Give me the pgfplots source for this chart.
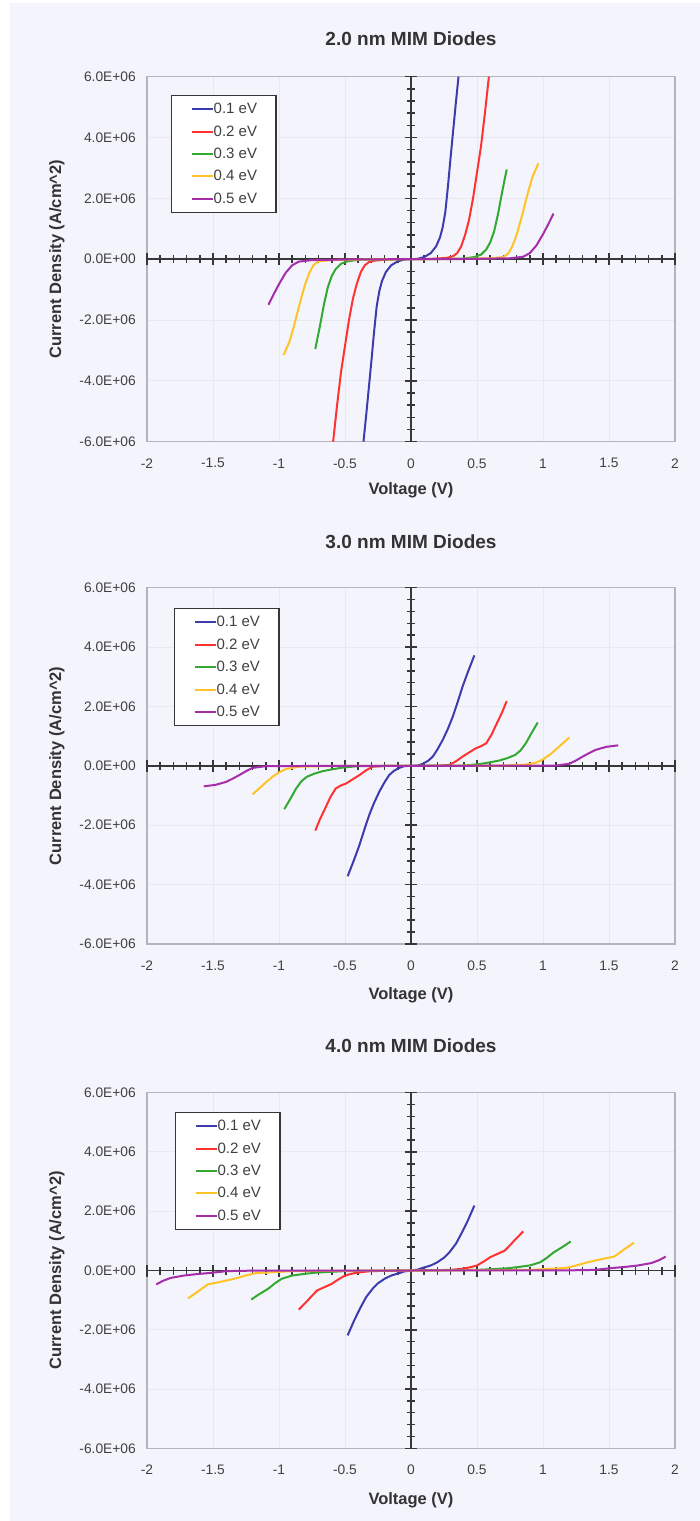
\documentclass[border=0pt]{standalone}
\usepackage{fontspec}
\setmainfont{Liberation Sans}
\usepackage{pgfplots}
\pgfplotsset{compat=1.18}

\definecolor{bg}{RGB}{244,244,252}
\definecolor{gridc}{RGB}{232,232,238}
\definecolor{framec}{RGB}{180,180,186}
\definecolor{txt}{RGB}{64,64,64}
\definecolor{axc}{RGB}{55,55,55}
\definecolor{c1}{RGB}{60,60,175}
\definecolor{c2}{RGB}{255,50,50}
\definecolor{c3}{RGB}{50,170,50}
\definecolor{c4}{RGB}{255,195,40}
\definecolor{c5}{RGB}{165,45,170}

% y values are in units of 1E+06 A/cm^2
\pgfplotsset{
  base/.style={width=528pt, scale only axis, anchor=south west,
    xmin=-2, xmax=2, ymin=-6, ymax=6, enlargelimits=false},
  frame/.style={base,
    axis line style={framec, line width=1.3pt},
    xtick={-2,-1.5,-1,-0.5,0,0.5,1,1.5,2},
    xticklabels={-2,-1.5,-1,-0.5,0,0.5,1,1.5,2},
    ytick={-6,-4,-2,0,2,4,6},
    yticklabels={-6.0E+06,-4.0E+06,-2.0E+06,0.0E+00,2.0E+06,4.0E+06,6.0E+06},
    major tick length=0pt,
    grid=major, major grid style={gridc, line width=1pt},
    tick label style={font=\fontsize{13.8}{15}\selectfont, text=txt},
    xticklabel style={anchor=center, inner sep=0pt, yshift=-21.6pt},
    yticklabel style={anchor=east, inner sep=0pt, xshift=-11pt},
    title style={font=\fontsize{19}{22}\bfseries, text=black!80, anchor=center, at={(0.5,1)}},
    label style={font=\fontsize{16.5}{19}\bfseries, text=black!80},
    xlabel={Voltage (V)},
    ylabel={Current Density (A/cm\textasciicircum 2)},
    xlabel style={anchor=center, at={(0.5,0)}, yshift=-48.5pt},
  },
  mid/.style={base,
    axis lines=middle,
    axis line style={-, draw=axc, line width=1.5pt},
    every inner x axis line/.append style={-},
    every inner y axis line/.append style={-},
    xtick={-2,-1.5,-1,-0.5,0,0.5,1,1.5,2}, minor x tick num=4,
    ytick={-6,-4,-2,0,2,4,6}, minor y tick num=4,
    xticklabels={}, yticklabels={},
    tick align=center, major tick length=12pt, minor tick length=8pt,
    tick style={draw=axc, line width=1.5pt},
    every axis plot/.append style={line width=2pt},
    legend cell align=left,
    legend image code/.code={\draw[#1, line width=2pt] (0pt,0pt) -- (21pt,0pt);},
    legend style={anchor=north west, draw=axc, line width=1.3pt, fill=white,
      font=\fontsize{15}{17}\selectfont, text=txt,
      inner xsep=19pt, inner ysep=7.5pt, row sep=10.5pt,
      nodes={inner sep=0pt},
      /tikz/every even column/.append style={column sep=3pt}},
  },
}

\begin{document}
\begin{tikzpicture}
\fill[white] (0,0) rectangle (700pt,1521pt);
\fill[bg] (10pt,0) rectangle (700pt,1518pt);
\path[use as bounding box] (0,0) rectangle (700pt,1521pt);

% ---------------- 2.0 nm ----------------
\begin{axis}[frame, at={(147pt,1079.3pt)}, height=365pt,
  title={2.0 nm MIM Diodes}, title style={yshift=31.7pt},
  ylabel style={anchor=center, at={(axis description cs:-0.1705,0.5)}}]
\end{axis}
\begin{axis}[mid, at={(147pt,1079.3pt)}, height=365pt,
  legend style={at={(axis description cs:0.0455,0.95)}}]
\addplot[c1] coordinates {(-0.36,-6.0) (-0.34,-5.15) (-0.32,-4.25) (-0.3,-3.35) (-0.28,-2.4) (-0.26,-1.55) (-0.24,-1.05) (-0.22,-0.72) (-0.19,-0.42) (-0.15,-0.2) (-0.1,-0.07) (-0.05,-0.01) (0,0)
  (0.05,0.01) (0.1,0.07) (0.15,0.2) (0.19,0.42) (0.22,0.72) (0.24,1.05) (0.26,1.55) (0.28,2.4) (0.3,3.35) (0.32,4.25) (0.34,5.15) (0.36,6.0)};
\addplot[c2] coordinates {(-0.59,-6.0) (-0.56,-4.8) (-0.53,-3.7) (-0.5,-2.85) (-0.47,-2.0) (-0.44,-1.3) (-0.41,-0.8) (-0.38,-0.42) (-0.35,-0.2) (-0.32,-0.1) (-0.28,-0.05) (-0.2,-0.02) (-0.1,-0.005) (0,0)
  (0.1,0.005) (0.2,0.02) (0.28,0.05) (0.32,0.1) (0.35,0.2) (0.38,0.42) (0.41,0.8) (0.44,1.3) (0.47,2.0) (0.5,2.85) (0.53,3.7) (0.56,4.8) (0.59,6.0)};
\addplot[c3] coordinates {(-0.725,-2.95) (-0.69,-2.2) (-0.66,-1.5) (-0.63,-0.92) (-0.6,-0.55) (-0.57,-0.32) (-0.53,-0.15) (-0.48,-0.07) (-0.4,-0.02) (-0.2,-0.005) (0,0)
  (0.2,0.005) (0.4,0.02) (0.48,0.07) (0.53,0.15) (0.57,0.32) (0.6,0.55) (0.63,0.92) (0.66,1.5) (0.69,2.2) (0.725,2.95)};
\addplot[c4] coordinates {(-0.965,-3.15) (-0.92,-2.7) (-0.89,-2.25) (-0.86,-1.75) (-0.83,-1.25) (-0.8,-0.8) (-0.77,-0.45) (-0.74,-0.2) (-0.7,-0.07) (-0.6,-0.03) (-0.3,-0.005) (0,0)
  (0.3,0.005) (0.6,0.03) (0.7,0.07) (0.74,0.2) (0.77,0.45) (0.8,0.8) (0.83,1.25) (0.86,1.75) (0.89,2.25) (0.92,2.7) (0.965,3.15)};
\addplot[c5] coordinates {(-1.08,-1.5) (-1.04,-1.15) (-1.0,-0.82) (-0.95,-0.45) (-0.9,-0.2) (-0.85,-0.08) (-0.75,-0.03) (-0.4,-0.005) (0,0)
  (0.4,0.005) (0.75,0.03) (0.85,0.08) (0.9,0.2) (0.95,0.45) (1.0,0.82) (1.04,1.15) (1.08,1.5)};
\legend{0.1 eV,0.2 eV,0.3 eV,0.4 eV,0.5 eV}
\end{axis}

% ---------------- 3.0 nm ----------------
\begin{axis}[frame, at={(147pt,577pt)}, height=356.3pt,
  title={3.0 nm MIM Diodes}, title style={yshift=39.7pt},
  xlabel style={yshift=-2.5pt},
  ylabel style={anchor=center, at={(axis description cs:-0.1705,0.5)}}]
\end{axis}
\begin{axis}[mid, at={(147pt,577pt)}, height=356.3pt,
  legend style={at={(axis description cs:0.051,0.943)}}]
\addplot[c1] coordinates {(-0.48,-3.72) (-0.43,-3.15) (-0.39,-2.66) (-0.35,-2.1) (-0.316,-1.65) (-0.28,-1.25) (-0.24,-0.87) (-0.2,-0.55) (-0.165,-0.31) (-0.13,-0.17) (-0.09,-0.07) (-0.05,-0.01) (0,0)
  (0.05,0.01) (0.09,0.07) (0.13,0.17) (0.165,0.31) (0.2,0.55) (0.24,0.87) (0.28,1.25) (0.316,1.65) (0.35,2.1) (0.39,2.66) (0.43,3.15) (0.48,3.72)};
\addplot[c2] coordinates {(-0.725,-2.18) (-0.69,-1.8) (-0.65,-1.43) (-0.61,-1.05) (-0.57,-0.76) (-0.53,-0.66) (-0.49,-0.59) (-0.44,-0.45) (-0.39,-0.31) (-0.34,-0.15) (-0.29,-0.03) (-0.2,-0.005) (0,0)
  (0.2,0.005) (0.29,0.03) (0.34,0.15) (0.39,0.31) (0.44,0.45) (0.49,0.59) (0.53,0.66) (0.57,0.76) (0.61,1.05) (0.65,1.43) (0.69,1.8) (0.725,2.18)};
\addplot[c3] coordinates {(-0.96,-1.46) (-0.91,-1.08) (-0.87,-0.76) (-0.83,-0.52) (-0.79,-0.37) (-0.73,-0.26) (-0.67,-0.18) (-0.6,-0.12) (-0.52,-0.06) (-0.4,-0.01) (0,0)
  (0.4,0.01) (0.52,0.06) (0.6,0.12) (0.67,0.18) (0.73,0.26) (0.79,0.37) (0.83,0.52) (0.87,0.76) (0.91,1.08) (0.96,1.46)};
\addplot[c4] coordinates {(-1.2,-0.96) (-1.16,-0.8) (-1.12,-0.64) (-1.09,-0.52) (-1.05,-0.37) (-1.0,-0.22) (-0.95,-0.11) (-0.85,-0.03) (-0.6,-0.005) (0,0)
  (0.6,0.005) (0.85,0.03) (0.95,0.11) (1.0,0.22) (1.05,0.37) (1.09,0.52) (1.12,0.64) (1.16,0.8) (1.2,0.96)};
\addplot[c5] coordinates {(-1.57,-0.69) (-1.48,-0.64) (-1.4,-0.54) (-1.35,-0.43) (-1.3,-0.31) (-1.25,-0.18) (-1.2,-0.07) (-1.1,-0.01) (-0.8,-0.005) (0,0)
  (0.8,0.005) (1.1,0.01) (1.2,0.07) (1.25,0.18) (1.3,0.31) (1.35,0.43) (1.4,0.54) (1.48,0.64) (1.57,0.69)};
\legend{0.1 eV,0.2 eV,0.3 eV,0.4 eV,0.5 eV}
\end{axis}

% ---------------- 4.0 nm ----------------
\begin{axis}[frame, at={(147pt,72.7pt)}, height=355.6pt,
  title={4.0 nm MIM Diodes}, title style={yshift=40.7pt},
  xlabel style={yshift=-3pt},
  ylabel style={anchor=center, at={(axis description cs:-0.1705,0.5)}}]
\end{axis}
\begin{axis}[mid, at={(147pt,72.7pt)}, height=355.6pt,
  legend style={at={(axis description cs:0.053,0.946)}}]
\addplot[c1] coordinates {(-0.48,-2.19) (-0.43,-1.68) (-0.38,-1.23) (-0.34,-0.9) (-0.29,-0.61) (-0.25,-0.43) (-0.2,-0.28) (-0.15,-0.17) (-0.09,-0.09) (-0.05,-0.03) (0,0)
  (0.05,0.03) (0.09,0.09) (0.15,0.17) (0.2,0.28) (0.25,0.43) (0.29,0.61) (0.34,0.9) (0.38,1.23) (0.43,1.68) (0.48,2.19)};
\addplot[c2] coordinates {(-0.85,-1.32) (-0.78,-1.0) (-0.75,-0.85) (-0.71,-0.67) (-0.66,-0.57) (-0.6,-0.45) (-0.55,-0.3) (-0.5,-0.17) (-0.45,-0.11) (-0.39,-0.06) (-0.3,-0.02) (0,0)
  (0.3,0.02) (0.39,0.06) (0.45,0.11) (0.5,0.17) (0.55,0.3) (0.6,0.45) (0.66,0.57) (0.71,0.67) (0.75,0.85) (0.78,1.0) (0.85,1.32)};
\addplot[c3] coordinates {(-1.21,-0.98) (-1.15,-0.8) (-1.08,-0.61) (-1.03,-0.43) (-0.98,-0.28) (-0.9,-0.17) (-0.8,-0.11) (-0.72,-0.07) (-0.5,-0.02) (0,0)
  (0.5,0.02) (0.72,0.07) (0.8,0.11) (0.9,0.17) (0.98,0.28) (1.03,0.43) (1.08,0.61) (1.15,0.8) (1.21,0.98)};
\addplot[c4] coordinates {(-1.69,-0.94) (-1.62,-0.73) (-1.58,-0.6) (-1.54,-0.47) (-1.44,-0.38) (-1.34,-0.28) (-1.26,-0.18) (-1.18,-0.09) (-0.9,-0.02) (0,0)
  (0.9,0.02) (1.18,0.09) (1.26,0.18) (1.34,0.28) (1.44,0.38) (1.54,0.47) (1.58,0.6) (1.62,0.73) (1.69,0.94)};
\addplot[c5] coordinates {(-1.93,-0.47) (-1.88,-0.35) (-1.82,-0.25) (-1.72,-0.17) (-1.62,-0.12) (-1.54,-0.09) (-1.39,-0.02) (-1.2,-0.005) (0,0)
  (1.2,0.005) (1.39,0.02) (1.54,0.09) (1.62,0.12) (1.72,0.17) (1.82,0.25) (1.88,0.35) (1.93,0.47)};
\legend{0.1 eV,0.2 eV,0.3 eV,0.4 eV,0.5 eV}
\end{axis}
\end{tikzpicture}
\end{document}
